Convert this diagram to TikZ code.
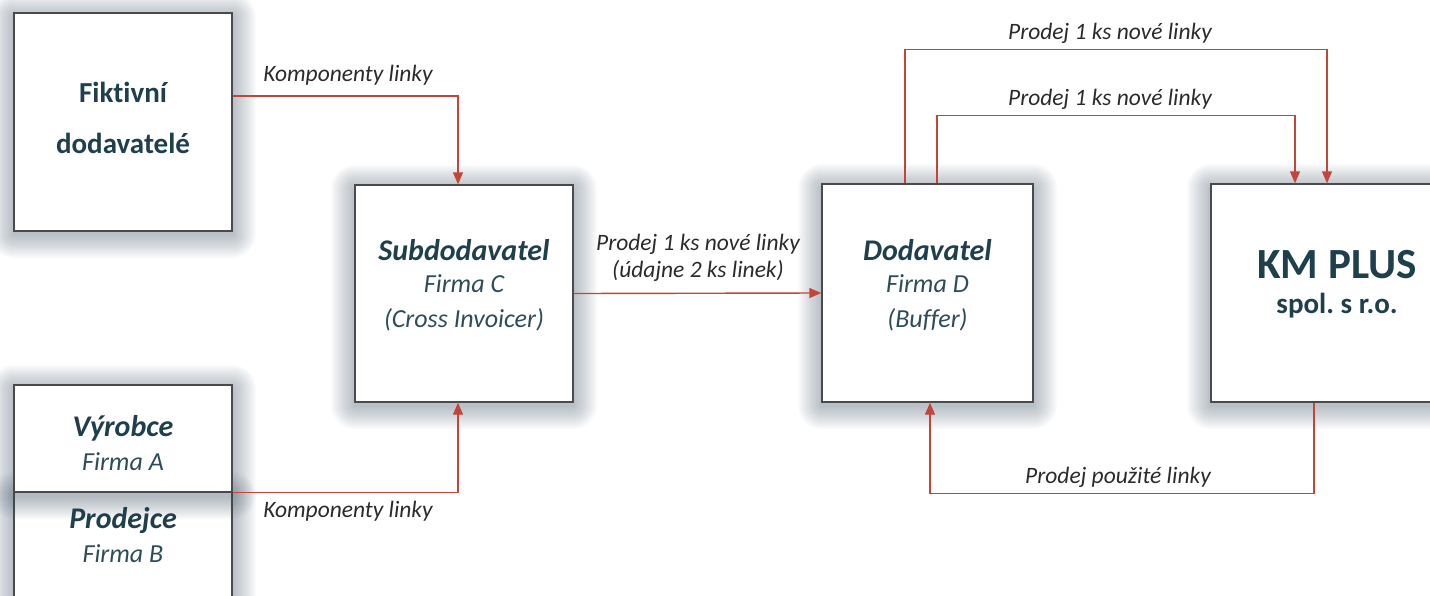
\documentclass[tikz,border=0pt]{standalone}
\usepackage{fontspec}
\setmainfont{Carlito}[RawFeature=-liga]
\usetikzlibrary{arrows.meta,calc}
\definecolor{boxtxt}{HTML}{1E3F4B}
\definecolor{subtxt}{HTML}{2E4D58}
\definecolor{lbltxt}{HTML}{2B2B2B}
\definecolor{boxline}{HTML}{4A4A4A}
\definecolor{conncol}{HTML}{C2453A}
\definecolor{shadowcol}{HTML}{3E5064}
\frenchspacing
% glow behind a box, then the box node: name, cx, cy, w, h
\newcommand\gbox[5]{%
  \foreach \i in {1,...,16}{%
    \pgfmathsetmacro\dd{\i*1.5}%
    \fill[shadowcol, opacity=0.028, rounded corners=\dd pt]
      (#2-#4/2-\dd, #3-#5/2-\dd+4) rectangle (#2+#4/2+\dd, #3+#5/2+\dd+3);
  }%
  \node[mybox, minimum width=#4pt, minimum height=#5pt] (#1) at (#2,#3) {};%
}
\begin{document}
\begin{tikzpicture}[x=1pt,y=-1pt,
  mybox/.style={rectangle, draw=boxline, line width=1.4pt, fill=white, inner sep=0pt},
  conn/.style={draw=conncol, line width=1.4pt, -{Triangle[width=10pt,length=12pt]}},
  ttlstyle/.style={font=\fontsize{29}{34}\selectfont\bfseries, text=boxtxt, align=center},
  namestyle/.style={font=\fontsize{30}{34}\selectfont\bfseries\itshape, text=boxtxt, align=center},
  substyle/.style={font=\fontsize{26}{30}\selectfont\itshape, text=subtxt, align=center},
  lbl/.style={font=\fontsize{23.5}{28}\selectfont\itshape, text=lbltxt, align=center, inner sep=0pt}
]
\useasboundingbox (0,0) rectangle (1430,595);

% boxes
\gbox{fik}{123}{122}{218}{218}
\gbox{subd}{464}{293.5}{218}{217}
\gbox{dod}{927.5}{293}{211}{218}
\gbox{km}{1337}{293}{252}{218}
\gbox{pro}{123}{557}{218}{130}
\gbox{vyr}{123}{438.5}{218}{107}

% box texts
\node[ttlstyle] (fikA) at (123,92) {Fiktivní};
\node[ttlstyle] (fikB) at (123,143) {dodavatelé};

\node[namestyle] (subA) at (464,250) {Subdodavatel};
\node[substyle] (subB) at (464,284) {Firma C};
\node[substyle] (subC) at (464,320) {(Cross Invoicer)};

\node[namestyle] (dodA) at (927.5,250) {Dodavatel};
\node[substyle] (dodB) at (927.5,284) {Firma D};
\node[substyle] (dodC) at (927.5,320) {(Buffer)};

\node[font=\fontsize{43}{50}\selectfont\bfseries, text=boxtxt] (kmA) at (1337,265) {KM PLUS};
\node[font=\fontsize{29}{34}\selectfont\bfseries, text=boxtxt] (kmB) at (1337,306) {spol. s r.o.};

\node[namestyle] (vyrA) at (123,428) {Výrobce};
\node[substyle] (vyrB) at (123,462) {Firma A};
\node[namestyle] (proA) at (123,521) {Prodejce};
\node[substyle] (proB) at (123,554) {Firma B};

% connectors
\draw[conn] ([yshift=26pt]fik.east) -| ([xshift=-6pt]subd.north);
\draw[conn] (vyr.south east) -| ([xshift=-6pt]subd.south);
\draw[conn] (subd.east) -- (dod.west);
\draw[conn] ([xshift=-22.5pt]dod.north) -- ++(0,-134) -| ([xshift=-10pt]km.north);
\draw[conn] ([xshift=9.5pt]dod.north) -- ++(0,-68) -| ([xshift=-42pt]km.north);
\draw[conn] ([xshift=-23pt]km.south) -- ++(0,91) -| ([xshift=2.5pt]dod.south);

% labels
\node[lbl] (l1) at (348,75) {Komponenty linky};
\node[lbl] (l2) at (348,511) {Komponenty linky};
\node[lbl] (l3) at (698,244) {Prodej 1 ks nové linky};
\node[lbl] (l4) at (698,271) {(údajne 2 ks linek)};
\node[lbl] (l5) at (1110,33) {Prodej 1 ks nové linky};
\node[lbl] (l6) at (1110,99) {Prodej 1 ks nové linky};
\node[lbl] (l7) at (1118,477) {Prodej použité linky};
\end{tikzpicture}
\end{document}
